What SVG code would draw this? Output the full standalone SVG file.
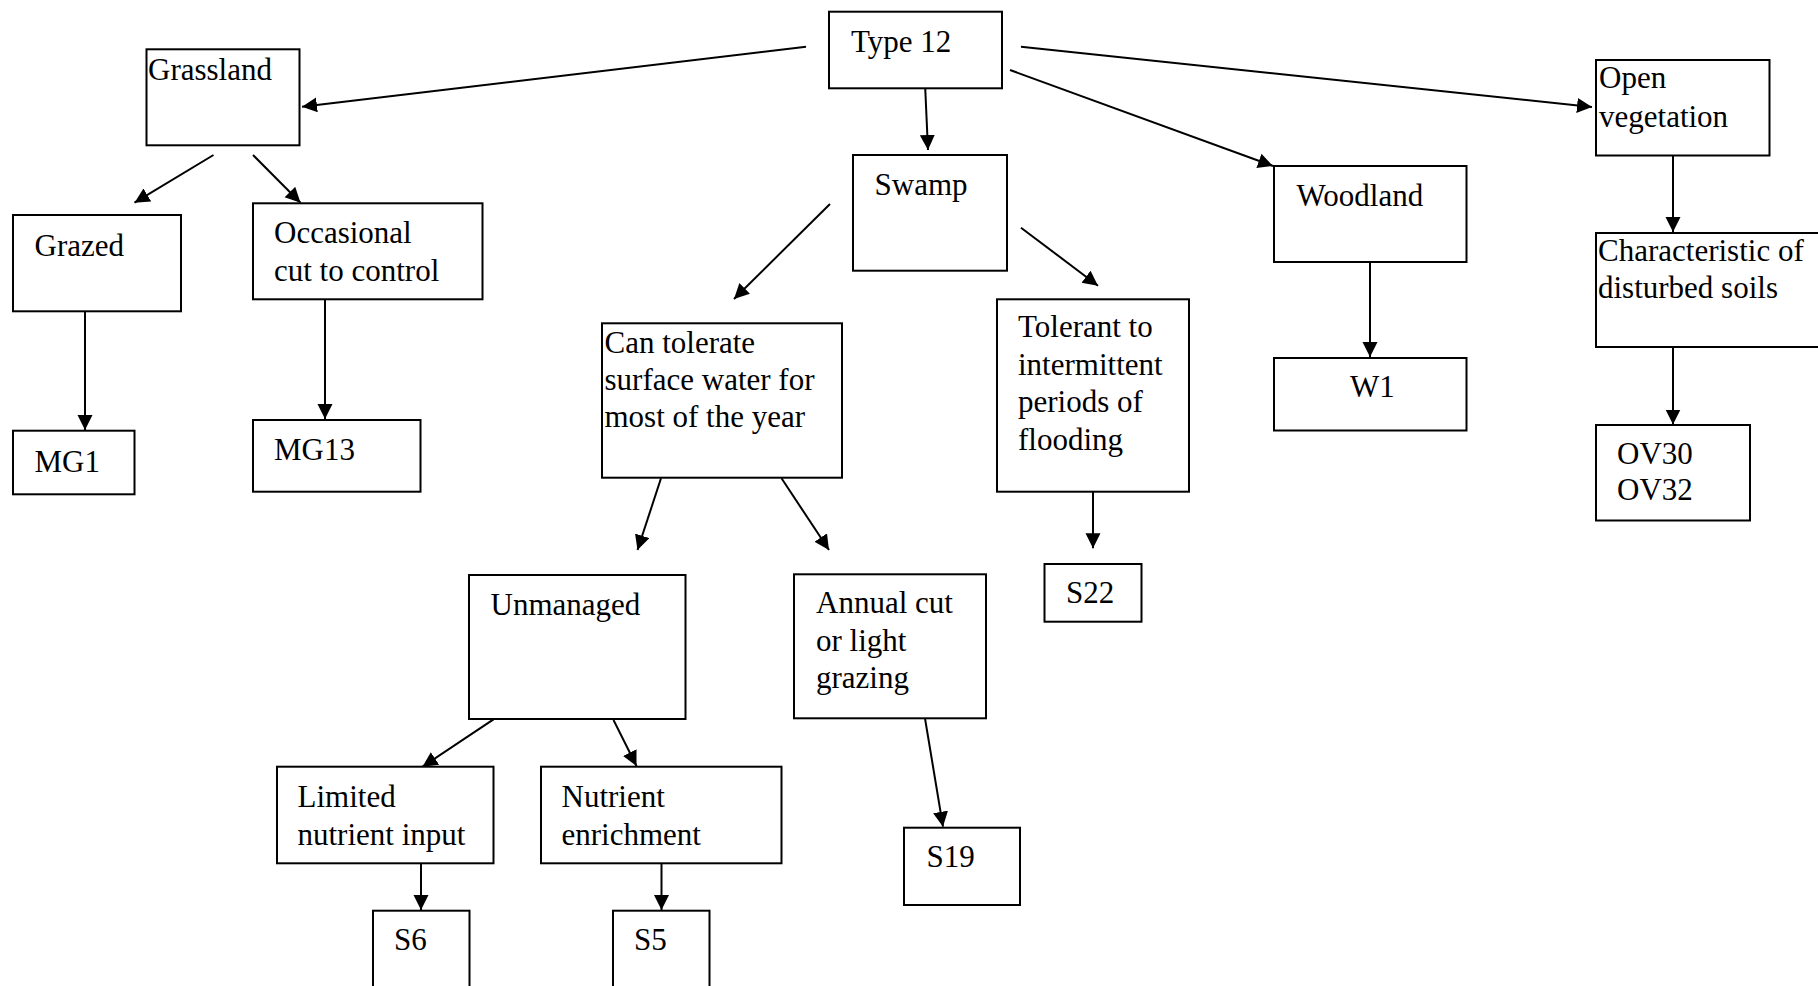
<svg xmlns="http://www.w3.org/2000/svg" width="1818" height="986" viewBox="0 0 1818 986">
  <style>
    .box { fill: #ffffff; stroke: #000000; stroke-width: 2; }
    .lbl { font-family: "Liberation Serif", "Times New Roman", serif; font-size: 31px; fill: #000000; }
    .edge { stroke: #000000; stroke-width: 2; fill: none; marker-end: url(#arrow); }
  </style>
  <defs>
    <marker id="arrow" markerUnits="userSpaceOnUse" markerWidth="16" markerHeight="16" refX="15" refY="7.5" orient="auto">
      <path d="M0,0 L15,7.5 L0,15 z" fill="#000000"/>
    </marker>
  </defs>
  <rect width="1818" height="986" fill="#ffffff"/>

  <!-- connectors -->
  <g id="connectors">
    <line class="edge" x1="806" y1="46.7" x2="302" y2="106.7"/>
    <line class="edge" x1="1021" y1="46.7" x2="1592" y2="107"/>
    <line class="edge" x1="1010" y1="70" x2="1273" y2="166"/>
    <line class="edge" x1="925" y1="83.3" x2="928" y2="150"/>
    <line class="edge" x1="213.5" y1="155" x2="134.5" y2="202.7"/>
    <line class="edge" x1="253" y1="155" x2="300.5" y2="202.7"/>
    <line class="edge" x1="85" y1="311.3" x2="85" y2="430"/>
    <line class="edge" x1="325" y1="299.3" x2="325" y2="419"/>
    <line class="edge" x1="830" y1="204" x2="734" y2="299"/>
    <line class="edge" x1="1021" y1="227.7" x2="1098" y2="285.7"/>
    <line class="edge" x1="661" y1="478.3" x2="637.5" y2="550"/>
    <line class="edge" x1="781.5" y1="478.3" x2="829" y2="550"/>
    <line class="edge" x1="1093" y1="491.7" x2="1093" y2="548.3"/>
    <line class="edge" x1="1370" y1="262" x2="1370" y2="357"/>
    <line class="edge" x1="1673" y1="155.5" x2="1673" y2="232"/>
    <line class="edge" x1="1673" y1="347" x2="1673" y2="424.5"/>
    <line class="edge" x1="493.5" y1="719.3" x2="422.5" y2="766.7"/>
    <line class="edge" x1="613.5" y1="720" x2="636.5" y2="766"/>
    <line class="edge" x1="925" y1="718.3" x2="943" y2="826.7"/>
    <line class="edge" x1="421" y1="863.3" x2="421" y2="910"/>
    <line class="edge" x1="661.5" y1="863.3" x2="661.5" y2="910"/>
  </g>

  <!-- nodes -->
  <g id="type12">
    <rect class="box" x="829" y="11.7" width="173" height="76.6"/>
    <text class="lbl" x="851" y="51.7">Type 12</text>
  </g>
  <g id="grassland">
    <rect class="box" x="146.5" y="49.3" width="153" height="96"/>
    <text class="lbl" x="148" y="80">Grassland</text>
  </g>
  <g id="grazed">
    <rect class="box" x="13" y="215" width="168" height="96.3"/>
    <text class="lbl" x="34.5" y="256">Grazed</text>
  </g>
  <g id="occasional">
    <rect class="box" x="253" y="203.3" width="229.5" height="96"/>
    <text class="lbl" x="274" y="242.7">Occasional</text>
    <text class="lbl" x="274" y="281">cut to control</text>
  </g>
  <g id="mg1">
    <rect class="box" x="13" y="430.7" width="121.5" height="63.6"/>
    <text class="lbl" x="34.5" y="471.7">MG1</text>
  </g>
  <g id="mg13">
    <rect class="box" x="253" y="420" width="167.5" height="71.7"/>
    <text class="lbl" x="274" y="460">MG13</text>
  </g>
  <g id="swamp">
    <rect class="box" x="853" y="155" width="154" height="115.7"/>
    <text class="lbl" x="874.5" y="195">Swamp</text>
  </g>
  <g id="can-tolerate">
    <rect class="box" x="602" y="323.3" width="240" height="154.4"/>
    <text class="lbl" x="604.5" y="353.3">Can tolerate</text>
    <text class="lbl" x="604.5" y="390">surface water for</text>
    <text class="lbl" x="604.5" y="426.7">most of the year</text>
  </g>
  <g id="tolerant">
    <rect class="box" x="997" y="299.3" width="192" height="192.4"/>
    <text class="lbl" x="1018" y="337.3">Tolerant to</text>
    <text class="lbl" x="1018" y="375">intermittent</text>
    <text class="lbl" x="1018" y="412.3">periods of</text>
    <text class="lbl" x="1018" y="450">flooding</text>
  </g>
  <g id="woodland">
    <rect class="box" x="1274" y="166" width="192.5" height="96"/>
    <text class="lbl" x="1296.5" y="205.5">Woodland</text>
  </g>
  <g id="w1">
    <rect class="box" x="1274" y="358" width="192.5" height="72.5"/>
    <text class="lbl" x="1350" y="397">W1</text>
  </g>
  <g id="open-vegetation">
    <rect class="box" x="1596" y="60" width="173.5" height="95.5"/>
    <text class="lbl" x="1599" y="87.5">Open</text>
    <text class="lbl" x="1599" y="127">vegetation</text>
  </g>
  <g id="disturbed-soils">
    <rect class="box" x="1596" y="233" width="240" height="114"/>
    <text class="lbl" x="1598" y="260.5">Characteristic of</text>
    <text class="lbl" x="1598" y="298">disturbed soils</text>
  </g>
  <g id="ov30-ov32">
    <rect class="box" x="1596" y="425" width="154" height="95.5"/>
    <text class="lbl" x="1617" y="464">OV30</text>
    <text class="lbl" x="1617" y="500">OV32</text>
  </g>
  <g id="s22">
    <rect class="box" x="1044.5" y="564" width="97" height="57.7"/>
    <text class="lbl" x="1066" y="603.3">S22</text>
  </g>
  <g id="unmanaged">
    <rect class="box" x="469" y="575" width="216.5" height="144"/>
    <text class="lbl" x="490.5" y="615">Unmanaged</text>
  </g>
  <g id="annual-cut">
    <rect class="box" x="794" y="574.3" width="192" height="144"/>
    <text class="lbl" x="816" y="613.3">Annual cut</text>
    <text class="lbl" x="816" y="650.7">or light</text>
    <text class="lbl" x="816" y="688.3">grazing</text>
  </g>
  <g id="limited-nutrient">
    <rect class="box" x="277" y="766.7" width="216.5" height="96.6"/>
    <text class="lbl" x="297.5" y="806.7">Limited</text>
    <text class="lbl" x="297.5" y="845">nutrient input</text>
  </g>
  <g id="nutrient-enrichment">
    <rect class="box" x="541" y="766.7" width="240.5" height="96.6"/>
    <text class="lbl" x="561.5" y="806.7">Nutrient</text>
    <text class="lbl" x="561.5" y="845">enrichment</text>
  </g>
  <g id="s19">
    <rect class="box" x="904" y="827.7" width="116" height="77.3"/>
    <text class="lbl" x="926.5" y="867.3">S19</text>
  </g>
  <g id="s6">
    <rect class="box" x="373" y="910.7" width="96.5" height="100"/>
    <text class="lbl" x="394" y="950">S6</text>
  </g>
  <g id="s5">
    <rect class="box" x="613" y="910.7" width="96.5" height="100"/>
    <text class="lbl" x="634" y="950">S5</text>
  </g>
</svg>
